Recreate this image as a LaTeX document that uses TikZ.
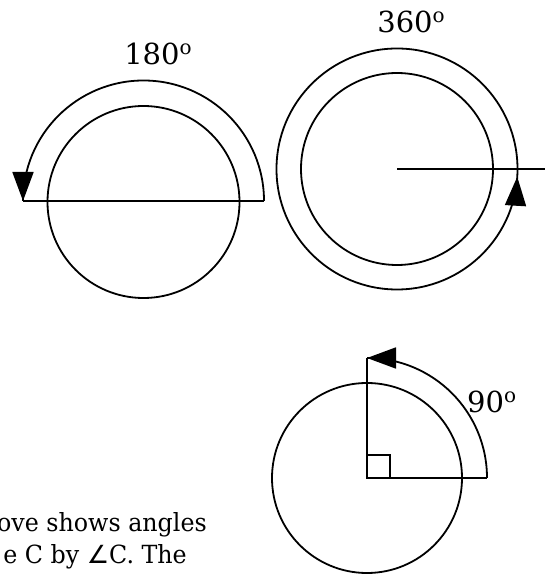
\documentclass[tikz,border=0pt]{standalone}
\usepackage{fontspec}
\setmainfont{DejaVu Serif}
\newfontfamily\bodyfnt{DejaVu Serif}[FakeStretch=0.95]
\newfontfamily\symfnt{DejaVu Sans}
\usetikzlibrary{arrows.meta}
\newcommand\ordo{\raisebox{10.5pt}{\fontsize{20}{20}\selectfont o}}
\tikzset{
  ln/.style={line width=1.8pt, line cap=butt, line join=miter},
  arr/.style={ln, -{Triangle[length=29pt,width=21pt]}},
  lbl/.style={inner sep=0pt, font=\fontsize{29}{34}\selectfont},
  body/.style={inner sep=0pt, font=\bodyfnt\fontsize{25}{31}\selectfont},
}
\begin{document}
\begin{tikzpicture}[x=1pt,y=1pt]
\useasboundingbox (0,0) rectangle (548,578);
\clip (0,0) rectangle (548,578);
% Figure 1: 180
\coordinate (c1) at (143.5,377);
\coordinate (l1) at (23,377);
\coordinate (r1) at (264,377);
\coordinate (a1) at (23,380);
\draw[ln] (143.5,376) circle[radius=96];
\draw[ln] (l1) -- (r1);
\draw[ln] (r1) arc[start angle=0,end angle=180,radius=120.5];
\draw[arr] (a1) -- (l1);
\node[lbl, anchor=base] (t180) at (158,513) {180\ordo};
% Figure 2: 360
\coordinate (c2) at (397,409);
\coordinate (r2) at (545,409);
\coordinate (tip2) at (517.25,401.25);
\coordinate (a2) at (517.07,398.25);
\draw[ln] (c2) circle[radius=96];
\draw[ln] (c2) circle[radius=120.5];
\draw[ln] (c2) -- (r2);
\draw[arr] (a2) -- (tip2);
\node[lbl, anchor=base] (t360) at (411,545) {360\ordo};
% Figure 3: 90
\coordinate (c3) at (367,100);
\coordinate (h3) at (487,100);
\coordinate (v3) at (367,220);
\coordinate (a3) at (370,220);
\draw[ln] (c3) circle[radius=95];
\draw[ln] (v3) -- (c3) -- (h3);
\draw[ln] (h3) arc[start angle=0,end angle=90,radius=120];
\draw[arr] (a3) -- (v3);
\draw[ln] (c3) rectangle (390,123);
\node[lbl, anchor=base west] (t90) at (467,165) {90\ordo};
% text
\node[body, anchor=base east] (p1) at (207,46.5) {ove shows angles};
\node[body, anchor=base east] (p2) at (187,14.5) {e C by {\symfnt ∠}C. The};
\end{tikzpicture}
\end{document}
